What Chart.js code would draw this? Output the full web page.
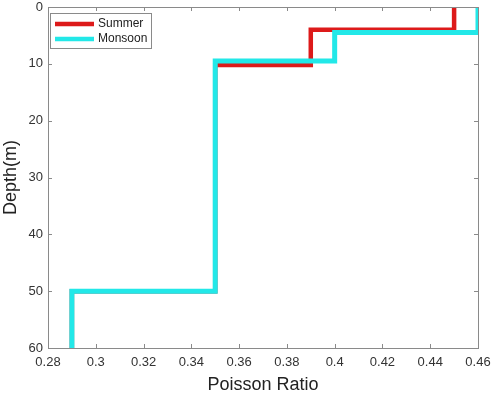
<!DOCTYPE html>
<html>
<head>
<meta charset="utf-8">
<script src="https://cdn.jsdelivr.net/npm/chart.js@4.4.1/dist/chart.umd.min.js"></script>
<style>
  html, body { margin: 0; padding: 0; background: #fff; }
</style>
</head>
<body>
<canvas id="chart" width="492" height="396"></canvas>
<script>
// step profile corners (poisson ratio vs depth in m)
const summerRatio = [0.45, 0.45, 0.39, 0.39, 0.35, 0.35, 0.29, 0.29];
const summerDepth = [0, 4, 4, 10.2, 10.2, 50, 50, 60];
const monsoonRatio = [0.46, 0.46, 0.40, 0.40, 0.35, 0.35, 0.29, 0.29];
const monsoonDepth = [0, 4.5, 4.5, 9.5, 9.5, 50, 50, 60];
const xTicks = [0.28, 0.30, 0.32, 0.34, 0.36, 0.38, 0.40, 0.42, 0.44, 0.46];
const yTicks = [0, 10, 20, 30, 40, 50, 60];

const axisColor = "#8a8a8a";
const textColor = "#333333";
const fontFamily = "'Liberation Sans', Arial, sans-serif";

function toPoints(xs, ys) {
  return xs.map((x, i) => ({ x: x, y: ys[i] }));
}

// box around plot with inward tick marks, like matlab
const boxPlugin = {
  id: "box",
  afterDatasetsDraw(chart) {
    const ctx = chart.ctx;
    const a = chart.chartArea;
    const xs = chart.scales.x;
    const ys = chart.scales.y;
    ctx.save();
    ctx.strokeStyle = axisColor;
    ctx.lineWidth = 1;
    ctx.strokeRect(a.left + 0.5, a.top + 0.5, a.right - a.left, a.bottom - a.top);
    ctx.beginPath();
    xTicks.forEach((v) => {
      const px = Math.round(xs.getPixelForValue(v)) + 0.5;
      ctx.moveTo(px, a.bottom); ctx.lineTo(px, a.bottom - 4);
      ctx.moveTo(px, a.top); ctx.lineTo(px, a.top + 4);
    });
    yTicks.forEach((v) => {
      const py = Math.round(ys.getPixelForValue(v)) + 0.5;
      ctx.moveTo(a.left, py); ctx.lineTo(a.left + 4, py);
      ctx.moveTo(a.right, py); ctx.lineTo(a.right - 4, py);
    });
    ctx.stroke();
    ctx.restore();
  },
};

// legend in the top-left corner of the plot
const legendPlugin = {
  id: "boxLegend",
  afterDraw(chart) {
    const ctx = chart.ctx;
    const a = chart.chartArea;
    const x0 = a.left + 2, y0 = a.top + 6, w = 101, h = 35;
    ctx.save();
    ctx.fillStyle = "#fff";
    ctx.fillRect(x0, y0, w, h);
    ctx.strokeStyle = axisColor;
    ctx.lineWidth = 1;
    ctx.strokeRect(x0 + 0.5, y0 + 0.5, w, h);
    ctx.font = "12px " + fontFamily;
    ctx.textBaseline = "middle";
    chart.data.datasets.forEach((ds, i) => {
      const ly = y0 + 11 + i * 15;
      ctx.strokeStyle = ds.borderColor;
      ctx.lineWidth = 4.5;
      ctx.beginPath();
      ctx.moveTo(x0 + 5, ly);
      ctx.lineTo(x0 + 44, ly);
      ctx.stroke();
      ctx.fillStyle = "#222";
      ctx.fillText(ds.label, x0 + 48, ly);
    });
    ctx.restore();
  },
};

new Chart(document.getElementById("chart").getContext("2d"), {
  type: "scatter",
  data: {
    datasets: [
      {
        label: "Summer",
        data: toPoints(summerRatio, summerDepth),
        borderColor: "#dd1a1a",
        backgroundColor: "#dd1a1a",
        borderWidth: 4.5,
        showLine: true,
        pointRadius: 0,
        order: 2,
      },
      {
        label: "Monsoon",
        data: toPoints(monsoonRatio, monsoonDepth),
        borderColor: "#22e8e8",
        backgroundColor: "#22e8e8",
        borderWidth: 5,
        showLine: true,
        pointRadius: 0,
        order: 1,
      },
    ],
  },
  options: {
    responsive: false,
    animation: false,
    layout: { padding: { top: 7, right: 14, left: 0, bottom: 0 } },
    plugins: {
      legend: { display: false },
      tooltip: { enabled: false },
    },
    scales: {
      x: {
        type: "linear",
        min: 0.28,
        max: 0.46,
        afterBuildTicks: (s) => { s.ticks = xTicks.map((v) => ({ value: v })); },
        afterFit: (s) => { s.height = 48; s.paddingLeft = 0; s.paddingRight = 0; },
        grid: { display: false, drawTicks: false },
        border: { display: false },
        ticks: {
          padding: 7,
          color: textColor,
          font: { size: 13, family: fontFamily },
          callback: (v) => String(Number(v.toFixed(2))),
          maxRotation: 0,
        },
        title: {
          display: true,
          text: "Poisson Ratio",
          color: "#222",
          font: { size: 18, family: fontFamily },
          padding: { top: 2, bottom: 0 },
        },
      },
      y: {
        type: "linear",
        reverse: true,
        min: 0,
        max: 60,
        afterBuildTicks: (s) => { s.ticks = yTicks.map((v) => ({ value: v })); },
        afterFit: (s) => { s.width = 48; s.paddingTop = 0; s.paddingBottom = 0; },
        grid: { display: false, drawTicks: false },
        border: { display: false },
        ticks: {
          padding: 5,
          color: textColor,
          font: { size: 13, family: fontFamily },
        },
        title: {
          display: true,
          text: "Depth(m)",
          color: "#222",
          font: { size: 18, family: fontFamily },
          padding: { top: 0, bottom: 0 },
        },
      },
    },
  },
  plugins: [boxPlugin, legendPlugin],
});
</script>
</body>
</html>
